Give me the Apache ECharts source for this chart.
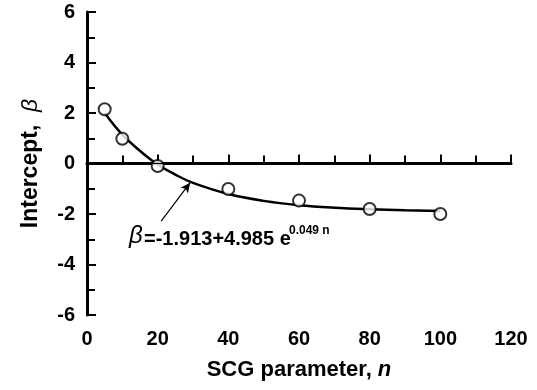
<!DOCTYPE html>
<html>
<head>
<meta charset="utf-8">
<script src="https://cdn.jsdelivr.net/npm/echarts@6/dist/echarts.min.js"></script>
<style>
html,body{margin:0;padding:0;background:#fff;}
#chart{width:537px;height:390px;}
</style>
</head>
<body>
<div id="chart"></div>
<script>
// Measured points (SCG parameter n, intercept beta)
var pointN = [5, 10, 20, 40, 60, 80, 100];
var pointBeta = [2.15, 0.98, -0.1, -1.01, -1.47, -1.8, -2.0];
// Fitted curve
var curveN = [5, 10, 15, 20, 25, 30, 40, 50, 60, 70, 80, 90, 100];
var curveBeta = [2.0, 1.14, 0.5, -0.04, -0.44, -0.77, -1.21, -1.48, -1.65, -1.75, -1.81, -1.85, -1.88];
// Arrow annotation (data coords: start, end)
var arrowStart = [21, -2.28];
var arrowEnd = [29.2, -0.76];
// Axis ticks
var xTicks = [0, 20, 40, 60, 80, 100, 120];
var yTicks = [-6, -4, -2, 0, 2, 4, 6];

var FONT = 'Liberation Sans, Arial, sans-serif';
var chart = echarts.init(document.getElementById('chart'));

function zip(a, b) { return a.map(function (v, i) { return [v, b[i]]; }); }

var option = {
  animation: false,
  backgroundColor: '#fff',
  grid: { left: 87, right: 26, top: 12, bottom: 75 },
  xAxis: {
    type: 'value',
    min: xTicks[0], max: xTicks[xTicks.length - 1], interval: 20,
    splitLine: { show: false },
    axisLine: { lineStyle: { color: '#000', width: 3 } },
    axisTick: { inside: true, length: 9, lineStyle: { color: '#000', width: 2 } },
    minorTick: { show: true, splitNumber: 2, length: 8, lineStyle: { color: '#000', width: 2 } },
    axisLabel: { margin: 14, color: '#000', fontSize: 20, fontWeight: 'bold', fontFamily: FONT },
    name: '{a|SCG parameter, }{b|n}',
    nameLocation: 'middle',
    nameGap: 44,
    nameTextStyle: {
      rich: {
        a: { fontSize: 22, fontWeight: 'bold', fontFamily: FONT, color: '#000' },
        b: { fontSize: 22, fontWeight: 'bold', fontStyle: 'italic', fontFamily: FONT, color: '#000' }
      }
    }
  },
  yAxis: {
    type: 'value',
    min: yTicks[0], max: yTicks[yTicks.length - 1], interval: 2,
    splitLine: { show: false },
    axisLine: { show: true, lineStyle: { color: '#000', width: 3 } },
    axisTick: { show: true, inside: true, length: 9, lineStyle: { color: '#000', width: 2 } },
    minorTick: { show: true, splitNumber: 2, length: 8, lineStyle: { color: '#000', width: 2 } },
    axisLabel: { margin: 12, color: '#000', fontSize: 20, fontWeight: 'bold', fontFamily: FONT },
    name: '{a|Intercept,  }{b|β}',
    nameLocation: 'middle',
    nameGap: 45,
    nameTextStyle: {
      rich: {
        a: { fontSize: 23, fontWeight: 'bold', fontFamily: FONT, color: '#000' },
        b: { fontSize: 23, fontStyle: 'italic', fontFamily: FONT, color: '#000' }
      }
    }
  },
  series: [
    {
      type: 'line',
      data: zip(curveN, curveBeta),
      smooth: 0.4,
      symbol: 'none',
      lineStyle: { color: '#000', width: 2.5 },
      z: 3,
      markLine: {
        silent: true,
        symbol: ['none', 'none'],
        label: { show: false },
        lineStyle: { color: '#000', width: 1, type: 'solid' },
        data: [{ yAxis: 0 }]
      }
    },
    {
      type: 'scatter',
      data: zip(pointN, pointBeta),
      symbol: 'circle',
      symbolSize: 12,
      itemStyle: { color: '#fff', borderColor: '#000', borderWidth: 2 },
      z: 4
    },
    {
      type: 'line',
      data: [],
      markLine: {
        silent: true,
        symbol: ['none', 'arrow'],
        symbolSize: [7, 10],
        label: { show: false },
        lineStyle: { color: '#000', width: 1.2, type: 'solid' },
        data: [[{ coord: arrowStart }, { coord: arrowEnd }]]
      }
    }
  ],
  graphic: [
    {
      type: 'text', left: 129, top: 224,
      style: { text: 'β', font: 'italic 24px ' + FONT, fill: '#000' }
    },
    {
      type: 'text', left: 144, top: 229,
      style: { text: '=-1.913+4.985 e', font: 'bold 20px ' + FONT, fill: '#000' }
    },
    {
      type: 'text', left: 289, top: 225,
      style: { text: '0.049 n', font: 'bold 12px ' + FONT, fill: '#000' }
    }
  ]
};
chart.setOption(option);
</script>
</body>
</html>
